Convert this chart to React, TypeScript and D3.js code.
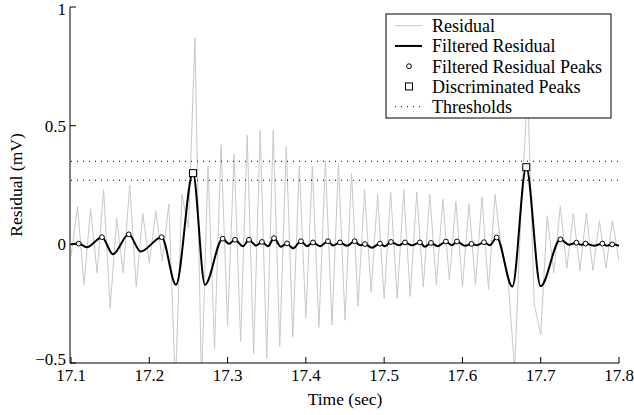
import React from 'react';
import * as d3 from 'd3';

const svgWidth = 634, svgHeight = 415;
const plot = { left: 71, right: 619, top: 7, bottom: 363 };

// residual, sampled every 1/120 s from 17.1 s
const startTime = 17.1;
const sampleStep = 1 / 120;
const residualValues = [
  -0.05, 0.16, -0.17, 0.15, -0.12, 0.23, -0.27, 0.11, -0.12, 0.25,
  -0.18, 0.13, -0.08, 0.14, -0.07, 0.17, -0.60, 0.21, 0.07, 0.87,
  -0.60, 0.33, -0.44, 0.42, -0.34, 0.38, -0.41, 0.46, -0.46, 0.48,
  -0.48, 0.48, -0.43, 0.41, -0.39, 0.33, -0.31, 0.33, -0.35, 0.35,
  -0.34, 0.34, -0.32, 0.30, -0.26, 0.23, -0.20, 0.21, -0.23, 0.22,
  -0.23, 0.23, -0.22, 0.22, -0.18, 0.21, -0.17, 0.19, -0.15, 0.18,
  -0.18, 0.17, -0.17, 0.20, -0.19, 0.21, -0.03, -0.15, -0.53, 0.15,
  0.65, -0.25, -0.38, 0.12, -0.12, 0.16, -0.10, 0.13, -0.11, 0.13,
  -0.11, 0.10, -0.10, 0.10, -0.07,
];

// filtered residual, key points (turning points)
const filteredTimes = [
  17.1000, 17.1098, 17.1201, 17.1396, 17.1536, 17.1737, 17.1888, 17.2158,
  17.2341, 17.2558, 17.2711, 17.2937, 17.3018, 17.3095, 17.3197, 17.3273,
  17.3363, 17.3439, 17.3516, 17.3593, 17.3682, 17.3759, 17.3835, 17.3937,
  17.4014, 17.4091, 17.4180, 17.4282, 17.4346, 17.4436, 17.4525, 17.4623,
  17.4691, 17.4755, 17.4844, 17.4946, 17.5010, 17.5087, 17.5189, 17.5266,
  17.5355, 17.5457, 17.5521, 17.5598, 17.5687, 17.5789, 17.5866, 17.5930,
  17.6032, 17.6115, 17.6185, 17.6275, 17.6351, 17.6437, 17.6638, 17.6815,
  17.6999, 17.7252, 17.7360, 17.7456, 17.7513, 17.7573, 17.7679, 17.7788,
  17.7845, 17.7913, 17.8000,
];
const filteredValues = [
  0.000, 0.003, -0.012, 0.030, -0.042, 0.042, -0.030, 0.030,
  -0.170, 0.300, -0.170, 0.024, 0.002, 0.019, -0.008, 0.019,
  -0.005, 0.010, -0.008, 0.026, -0.010, 0.004, -0.017, 0.013,
  -0.008, 0.008, -0.008, 0.013, -0.005, 0.008, -0.006, 0.013,
  -0.004, 0.001, -0.014, 0.003, -0.008, 0.010, -0.004, 0.008,
  -0.004, 0.008, -0.010, 0.006, -0.008, 0.012, -0.004, 0.012,
  -0.006, 0.002, -0.004, 0.009, -0.004, 0.029, -0.178, 0.325,
  -0.176, 0.021, -0.002, 0.007, -0.002, 0.003, -0.006, 0.003,
  -0.006, 0.000, -0.006,
];

const thresholds = [0.27, 0.35];

const xTicks = [17.1, 17.2, 17.3, 17.4, 17.5, 17.6, 17.7, 17.8];
const yTicks = [-0.5, 0, 0.5, 1];

const legendLabels = [
  'Residual',
  'Filtered Residual',
  'Filtered Residual Peaks',
  'Discriminated Peaks',
  'Thresholds',
];

const font = '"Liberation Serif", "Times New Roman", serif';

const xScale = d3.scaleLinear().domain([17.1, 17.8]).range([plot.left, plot.right]);
const yScale = d3.scaleLinear().domain([-0.5, 1]).range([plot.bottom, plot.top]);

const fmt = (v: number) => (v < 0 ? '\u2212' + Math.abs(v) : String(v));

const App = () => {
  const residual = residualValues.map((v, i) => [startTime + i * sampleStep, v] as [number, number]);
  const filtered = filteredTimes.map((t, i) => [t, filteredValues[i]] as [number, number]);

  const residualLine = d3.line<[number, number]>()
    .x(d => xScale(d[0]))
    .y(d => yScale(d[1]));
  const filteredLine = d3.line<[number, number]>()
    .x(d => xScale(d[0]))
    .y(d => yScale(d[1]))
    .curve(d3.curveMonotoneX);

  // local maxima of the filtered residual
  const peaks = filtered.filter((d, i) =>
    i > 0 && i < filtered.length - 1 && d[1] > filtered[i - 1][1] && d[1] > filtered[i + 1][1]);
  const discriminated = peaks.filter(d => d[1] > thresholds[0]);

  const legend = { x: 386, y: 14, w: 225, h: 104, row: 20.25 };

  return <svg width={svgWidth} height={svgHeight}
    style={{ position: 'absolute', left: 0, top: 0, background: '#fff' }}
    fontFamily={font}>
    <defs>
      <clipPath id='plotClip'>
        <rect x={plot.left} y={plot.top} width={plot.right - plot.left} height={plot.bottom - plot.top} />
      </clipPath>
    </defs>
    <rect width={svgWidth} height={svgHeight} fill='#fff' />

    <g clipPath='url(#plotClip)'>
      <path d={residualLine(residual) || ''} fill='none' stroke='#c8c8c8' strokeWidth={1} />
      <path d={filteredLine(filtered) || ''} fill='none' stroke='#000' strokeWidth={2} />
      {peaks.map(d => (
        <circle key={'p' + d[0]} cx={xScale(d[0])} cy={yScale(d[1])} r={2.4}
          fill='#fff' stroke='#000' strokeWidth={1} />
      ))}
      {discriminated.map(d => (
        <rect key={'s' + d[0]} x={xScale(d[0]) - 3.5} y={yScale(d[1]) - 3.5} width={7} height={7}
          fill='#fff' stroke='#000' strokeWidth={1} />
      ))}
      {thresholds.map(t => (
        <line key={t} x1={plot.left} x2={plot.right} y1={yScale(t)} y2={yScale(t)}
          stroke='#000' strokeWidth={1} strokeDasharray='1,5' />
      ))}
    </g>

    {/* axes */}
    <line x1={70} x2={70} y1={plot.top} y2={plot.bottom} stroke='#000' strokeWidth={1} />
    <line x1={70} x2={plot.right} y1={363} y2={363} stroke='#000' strokeWidth={1} />
    {yTicks.map(v => (
      <g key={v}>
        <line x1={70} x2={76} y1={yScale(v)} y2={yScale(v)} stroke='#000' />
        <text x={66} y={Math.min(359, Math.max(9, yScale(v)))} dy='0.35em' textAnchor='end' fontSize={17}>{fmt(v)}</text>
      </g>
    ))}
    {xTicks.map(v => (
      <g key={v}>
        <line x1={xScale(v)} x2={xScale(v)} y1={363} y2={357} stroke='#000' />
        <text x={xScale(v)} y={381} textAnchor='middle' fontSize={17}>{v.toFixed(1)}</text>
      </g>
    ))}
    <text x={345} y={405} textAnchor='middle' fontSize={17.5}>Time (sec)</text>
    <text transform={`translate(22, ${(plot.top + plot.bottom) / 2}) rotate(-90)`}
      textAnchor='middle' fontSize={17.5}>Residual (mV)</text>

    {/* legend */}
    <g>
      <rect x={legend.x} y={legend.y} width={legend.w} height={legend.h}
        fill='#fff' stroke='#000' strokeWidth={1} />
      {legendLabels.map((label, i) => {
        const cy = legend.y + 11.7 + i * legend.row;
        return <g key={label}>
          {i === 0 && <line x1={395} x2={422} y1={cy} y2={cy} stroke='#c8c8c8' />}
          {i === 1 && <line x1={395} x2={422} y1={cy} y2={cy} stroke='#000' strokeWidth={2} />}
          {i === 2 && <circle cx={409} cy={cy} r={2.4} fill='#fff' stroke='#000' />}
          {i === 3 && <rect x={405.5} y={cy - 3.5} width={7} height={7} fill='#fff' stroke='#000' />}
          {i === 4 && <line x1={395} x2={422} y1={cy} y2={cy} stroke='#000' strokeDasharray='1,5' />}
          <text x={432} y={cy + 6.4} fontSize={18}>{label}</text>
        </g>;
      })}
    </g>
  </svg>;
};

export default App;
